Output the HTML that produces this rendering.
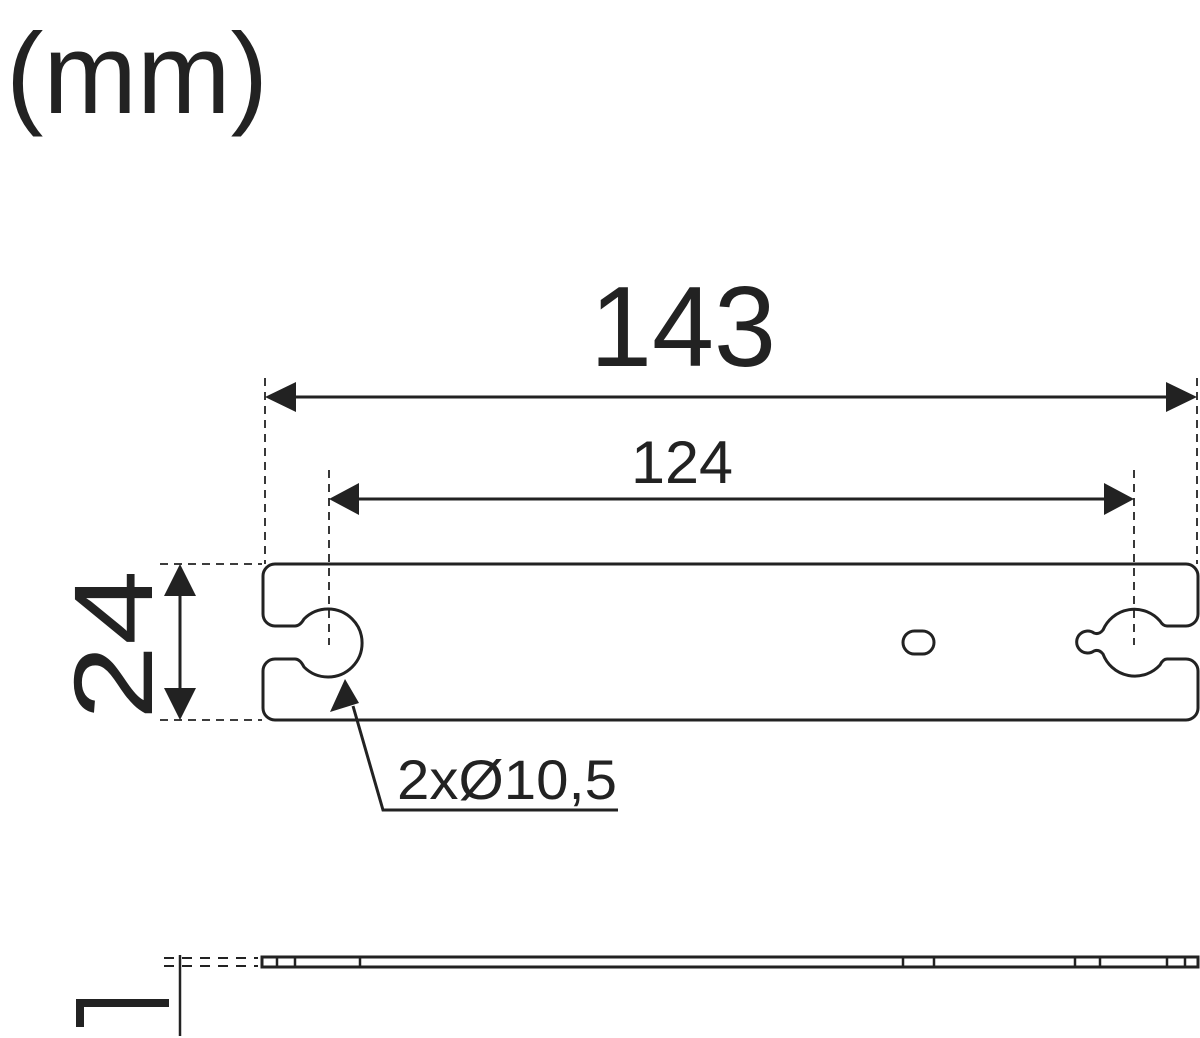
<!DOCTYPE html>
<html><head><meta charset="utf-8"><style>
html,body{margin:0;padding:0;background:#fff;}
svg{display:block}
text{font-family:"Liberation Sans",sans-serif;fill:#222;}
</style></head><body>
<svg width="1200" height="1038" viewBox="0 0 1200 1038" xmlns="http://www.w3.org/2000/svg">
<text x="6" y="113" font-size="114" textLength="262" lengthAdjust="spacingAndGlyphs">(mm)</text>

<!-- 143 -->
<text x="683" y="366" font-size="114" text-anchor="middle" textLength="186" lengthAdjust="spacingAndGlyphs">143</text>
<line x1="290" y1="397" x2="1172" y2="397" stroke="#222" stroke-width="3"/>
<polygon points="265,397 296,382 296,412" fill="#222"/>
<polygon points="1197,397 1166,382 1166,412" fill="#222"/>
<g stroke="#222" stroke-width="1.8" stroke-dasharray="8,6" fill="none">
<line x1="265" y1="378" x2="265" y2="564"/>
<line x1="1197" y1="378" x2="1197" y2="564"/>
<line x1="329" y1="470" x2="329" y2="645"/>
<line x1="1134" y1="470" x2="1134" y2="645"/>
<line x1="160" y1="564" x2="262" y2="564"/>
<line x1="160" y1="720" x2="262" y2="720"/>
</g>

<!-- 124 -->
<text x="682" y="483" font-size="60" text-anchor="middle" textLength="102" lengthAdjust="spacingAndGlyphs">124</text>
<line x1="350" y1="499" x2="1112" y2="499" stroke="#222" stroke-width="3"/>
<polygon points="329,499 359,483 359,515" fill="#222"/>
<polygon points="1134,499 1104,483 1104,515" fill="#222"/>

<!-- 24 -->
<text transform="translate(152,645) rotate(-90)" font-size="112" text-anchor="middle" textLength="150" lengthAdjust="spacingAndGlyphs">24</text>
<line x1="180" y1="590" x2="180" y2="694" stroke="#222" stroke-width="3"/>
<polygon points="180,564 164,596 196,596" fill="#222"/>
<polygon points="180,720 164,688 196,688" fill="#222"/>

<!-- plate -->
<path d="M275,564 H1186 A12,12 0 0 1 1198,576 V614 A12,12 0 0 1 1186,626 H1167 Q1163,626 1160,621 A34,34 0 0 0 1103,630 Q1099,635 1094,633 A11,11 0 1 0 1094,651 Q1099,649 1103,654 A34,34 0 0 0 1160,665 Q1163,659 1167,659 H1186 A12,12 0 0 1 1198,671 V708 A12,12 0 0 1 1186,720 H275 A12,12 0 0 1 263,708 V671 A12,12 0 0 1 275,659 H295 Q300,659 304,667 A34,34 0 1 0 304,619 Q300,626 295,626 H275 A12,12 0 0 1 263,614 V576 A12,12 0 0 1 275,564 Z" fill="none" stroke="#222" stroke-width="3"/>
<rect x="903" y="631" width="31" height="23" rx="11.5" fill="none" stroke="#222" stroke-width="3"/>

<!-- leader -->
<polyline points="353,706 383,810 618,810" fill="none" stroke="#222" stroke-width="3"/>
<polygon points="345,679 330,712 359,703" fill="#222"/>
<text x="397" y="799" font-size="56" textLength="220" lengthAdjust="spacingAndGlyphs">2xØ10,5</text>

<!-- side profile -->
<rect x="262" y="957" width="936" height="10" fill="none" stroke="#222" stroke-width="3"/>
<g stroke="#222" stroke-width="2.5">
<line x1="277" y1="957" x2="277" y2="967"/><line x1="295" y1="957" x2="295" y2="967"/>
<line x1="360" y1="957" x2="360" y2="967"/><line x1="903" y1="957" x2="903" y2="967"/>
<line x1="934" y1="957" x2="934" y2="967"/><line x1="1075" y1="957" x2="1075" y2="967"/>
<line x1="1100" y1="957" x2="1100" y2="967"/><line x1="1167" y1="957" x2="1167" y2="967"/>
<line x1="1185" y1="957" x2="1185" y2="967"/>
</g>
<g stroke="#222" stroke-width="2" stroke-dasharray="10,8">
<line x1="164" y1="958" x2="258" y2="958"/>
<line x1="164" y1="966" x2="258" y2="966"/>
</g>
<line x1="180" y1="955" x2="180" y2="1036" stroke="#222" stroke-width="2.5"/>
<path d="M80,1027 V1003 H169" fill="none" stroke="#222" stroke-width="8"/>
</svg>
</body></html>
